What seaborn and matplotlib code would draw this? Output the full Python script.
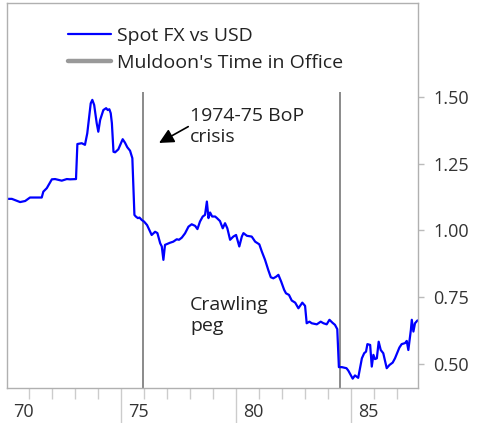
import matplotlib
matplotlib.use("Agg")
import matplotlib.pyplot as plt
from matplotlib.lines import Line2D
from matplotlib.transforms import ScaledTranslation
import pandas as pd
import seaborn as sns

# NZD spot rate against the US dollar (decimal year, USD per NZD)
years = [
    1970.06, 1970.25, 1970.61, 1970.83, 1971.04, 1971.55, 1971.62, 1971.77,
    1971.99, 1972.13, 1972.42, 1972.64, 1972.78, 1973.04, 1973.10, 1973.29,
    1973.43, 1973.53, 1973.68, 1973.75, 1973.83, 1973.94, 1974.01, 1974.09,
    1974.23, 1974.35, 1974.42, 1974.49, 1974.55, 1974.60, 1974.67, 1974.74,
    1974.88, 1975.07, 1975.17, 1975.27, 1975.39, 1975.49, 1975.58, 1975.64,
    1975.73, 1975.80, 1975.90, 1976.00, 1976.13, 1976.33, 1976.48, 1976.58,
    1976.70, 1976.77, 1976.84, 1976.91, 1977.13, 1977.27, 1977.42, 1977.52,
    1977.64, 1977.78, 1977.93, 1978.07, 1978.22, 1978.32, 1978.43, 1978.55,
    1978.65, 1978.73, 1978.80, 1978.87, 1978.96, 1979.09, 1979.17, 1979.30,
    1979.42, 1979.52, 1979.62, 1979.74, 1979.88, 1980.00, 1980.06, 1980.14,
    1980.25, 1980.32, 1980.47, 1980.68, 1980.83, 1981.01, 1981.12, 1981.26,
    1981.40, 1981.51, 1981.62, 1981.74, 1981.84, 1981.96, 1982.09, 1982.17,
    1982.30, 1982.42, 1982.57, 1982.71, 1982.88, 1983.00, 1983.07, 1983.19,
    1983.29, 1983.51, 1983.68, 1983.80, 1983.94, 1984.06, 1984.19, 1984.30,
    1984.40, 1984.47, 1984.60, 1984.80, 1984.88, 1985.07, 1985.17, 1985.31,
    1985.47, 1985.57, 1985.65, 1985.71, 1985.83, 1985.90, 1985.97, 1986.04,
    1986.12, 1986.20, 1986.29, 1986.40, 1986.55, 1986.67, 1986.81, 1986.91,
    1987.10, 1987.20, 1987.35, 1987.42, 1987.49, 1987.60, 1987.64, 1987.71,
    1987.78, 1987.88, 1988.00,
]
spot_fx = [
    1.118, 1.118, 1.106, 1.110, 1.123, 1.123, 1.145, 1.158,
    1.191, 1.192, 1.186, 1.192, 1.191, 1.192, 1.323, 1.326,
    1.320, 1.363, 1.475, 1.488, 1.469, 1.401, 1.369, 1.413,
    1.450, 1.457, 1.450, 1.453, 1.438, 1.401, 1.294, 1.292,
    1.303, 1.341, 1.328, 1.311, 1.298, 1.270, 1.058, 1.052,
    1.046, 1.048, 1.039, 1.033, 1.020, 0.983, 0.995, 0.990,
    0.952, 0.940, 0.890, 0.946, 0.954, 0.958, 0.967, 0.965,
    0.973, 0.989, 1.014, 1.023, 1.017, 1.005, 1.033, 1.052,
    1.058, 1.108, 1.046, 1.067, 1.052, 1.052, 1.046, 1.035,
    1.008, 1.027, 1.008, 0.965, 0.977, 0.983, 0.965, 0.940,
    0.977, 0.990, 0.980, 0.977, 0.958, 0.948, 0.921, 0.890,
    0.852, 0.825, 0.821, 0.827, 0.834, 0.809, 0.778, 0.765,
    0.759, 0.738, 0.730, 0.709, 0.730, 0.718, 0.653, 0.659,
    0.653, 0.649, 0.659, 0.653, 0.649, 0.666, 0.655, 0.647,
    0.631, 0.489, 0.489, 0.485, 0.476, 0.446, 0.458, 0.449,
    0.522, 0.541, 0.547, 0.575, 0.572, 0.491, 0.535, 0.519,
    0.522, 0.584, 0.553, 0.541, 0.485, 0.497, 0.506, 0.522,
    0.562, 0.575, 0.579, 0.587, 0.553, 0.628, 0.666, 0.622,
    0.653, 0.663, 0.666,
]

# Muldoon's premiership: Dec 1975 to Jul 1984
muldoon_years = [1975.97, 1984.53]

y_ticks = [0.50, 0.75, 1.00, 1.25, 1.50]
y_tick_labels = ["0.50", "0.75", "1.00", "1.25", "1.50"]
x_label_years = [1970, 1975, 1980, 1985]
x_labels = ["70", "75", "80", "85"]
x_minor_years = list(range(1971, 1988))

series_label = "Spot FX vs USD"
period_label = "Muldoon's Time in Office"

sns.set_theme(style="white")
plt.rcParams["font.family"] = ["Open Sans", "DejaVu Sans"]
text_color = "#222222"

fig = plt.figure(figsize=(4.78, 4.23), dpi=100)
ax = fig.add_axes([7 / 478, 35 / 423, 411 / 478, 384.7 / 423])

df = pd.DataFrame({"year": years, "fx": spot_fx})
sns.lineplot(data=df, x="year", y="fx", color="#0000ff", linewidth=1.6,
             ax=ax, legend=False)

ymin, ymax = 0.411, 1.849
ax.vlines(muldoon_years, ymin, 1.518, color="#8a8a8a", linewidth=1.4, zorder=1)

ax.set_xlim(1970.04, 1987.91)
ax.set_ylim(ymin, ymax)
ax.set_xlabel("")
ax.set_ylabel("")

# y axis on the right
ax.yaxis.tick_right()
ax.set_yticks(y_ticks, labels=y_tick_labels)
ax.tick_params(axis="y", which="major", direction="out", length=4, width=1,
               color="#bbbbbb", labelcolor="#333333", labelsize=13, pad=7,
               right=True, left=False)

# x axis: short yearly ticks, long separators every five years
ax.set_xticks([1975, 1980, 1985], labels=[])
ax.set_xticks(x_minor_years, minor=True)
ax.tick_params(axis="x", which="major", direction="out", length=35, width=1,
               color="#cccccc", bottom=True)
ax.tick_params(axis="x", which="minor", direction="out", length=8, width=1,
               color="#cccccc", bottom=True)
offset = ScaledTranslation(0.07, -0.29, fig.dpi_scale_trans)
for yr, lab in zip(x_label_years, x_labels):
    ax.text(yr, 0, lab, transform=ax.get_xaxis_transform() + offset,
            ha="left", va="baseline", fontsize=13, color="#333333",
            clip_on=False)

for side in ["left", "right", "top", "bottom"]:
    ax.spines[side].set_visible(True)
    ax.spines[side].set_color("#b0b0b0")
    ax.spines[side].set_linewidth(1)

# annotations (y is the baseline of the last line)
ax.text(1978.0, 1.331, "1974-75 BoP\ncrisis", fontsize=14, color=text_color,
        ha="left", va="baseline", linespacing=1.2)
ax.annotate("", xy=(1976.65, 1.327), xytext=(1977.92, 1.388),
            arrowprops=dict(arrowstyle="-|>", color="black", lw=1.2,
                            mutation_scale=22, shrinkA=0, shrinkB=0))
ax.text(1978.0, 0.624, "Crawling\npeg", fontsize=14, color=text_color,
        ha="left", va="baseline", linespacing=1.2)

handles = [
    Line2D([], [], color="#0000ff", linewidth=1.6),
    Line2D([], [], color="#999999", linewidth=3.2),
]
leg = ax.legend(handles, [series_label, period_label], loc="upper left",
                bbox_to_anchor=(61 / 411, 1 - 24 / 384.7), frameon=False,
                fontsize=14, handlelength=2.2, handletextpad=0.33,
                labelspacing=0.45, borderaxespad=0, borderpad=0)
for t in leg.get_texts():
    t.set_color(text_color)

fig.savefig("out.png", dpi=100)
